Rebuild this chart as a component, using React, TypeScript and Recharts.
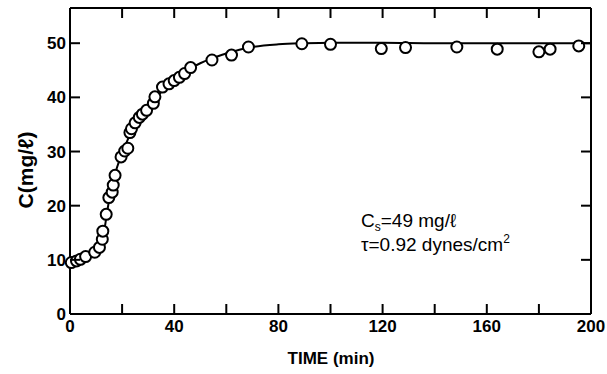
import React from 'react';
import { ComposedChart, Line, Scatter, XAxis, YAxis, Customized } from 'recharts';

// Measured concentration vs. time
const timeMin = [0.5, 2.5, 4, 6, 9.5, 11.3, 12.4, 12.6, 13.9, 14.9, 16.2, 16.6, 17.3, 19.6, 21, 22.2, 23, 23.6, 25, 26.6, 27.8, 29.4, 32, 32.6, 35.5, 38, 40, 42, 44, 46.3, 54.5, 62, 68.5, 89, 100, 119.5, 128.8, 148.5, 164, 180, 184.3, 195.3];
const concMg = [9.5, 9.8, 10.1, 10.6, 11.4, 12.3, 13.8, 15.3, 18.4, 21.5, 22.5, 23.8, 25.6, 29, 30.1, 30.6, 33.5, 34.2, 35.3, 36.3, 36.9, 37.6, 38.9, 40.1, 41.9, 42.5, 43.1, 43.7, 44.4, 45.5, 46.9, 47.8, 49.3, 49.9, 49.8, 49, 49.2, 49.3, 48.9, 48.4, 48.9, 49.5];

// Model curve
const fitTime = [0, 4, 8, 10, 12, 13, 14, 15, 16, 17, 18, 20, 22, 24, 26, 28, 30, 33, 36, 40, 45, 50, 55, 60, 65, 70, 80, 90, 100, 120, 140, 160, 180, 200];
const fitConc = [9.3, 9.9, 10.8, 11.6, 13.2, 15, 18, 21, 23.3, 25.2, 27, 29.6, 32, 34.2, 35.9, 37.2, 38.3, 39.9, 41.5, 43.2, 45, 46.3, 47.3, 48.1, 48.8, 49.3, 49.8, 50, 50.1, 50.1, 50, 50, 50, 50];

const xTicks = [0, 20, 40, 60, 80, 100, 120, 140, 160, 180, 200];
const xLabelTicks = [0, 40, 80, 120, 160, 200];
const yTicks = [0, 10, 20, 30, 40, 50];

const points = timeMin.map((t, i) => ({ t, c: concMg[i] }));
const fit = fitTime.map((t, i) => ({ t, c: fitConc[i] }));

const FONT = '"Liberation Sans", Arial, Helvetica, sans-serif';
const TICK_LEN = 10;

const BottomTick = (props: any) => {
  const { x, y, payload } = props;
  const show = xLabelTicks.includes(payload.value);
  return (
    <g>
      <line x1={x} y1={y} x2={x} y2={y - TICK_LEN} stroke="#000" strokeWidth={2} />
      {show && (
        <text x={x} y={y + 18} textAnchor="middle" fontFamily={FONT} fontWeight="bold" fontSize={17} fill="#000">
          {payload.value}
        </text>
      )}
    </g>
  );
};

const TopTick = (props: any) => {
  const { x, y } = props;
  return <line x1={x} y1={y} x2={x} y2={y + TICK_LEN} stroke="#000" strokeWidth={2} />;
};

const LeftTick = (props: any) => {
  const { x, y, payload } = props;
  return (
    <g>
      <line x1={x} y1={y} x2={x + TICK_LEN} y2={y} stroke="#000" strokeWidth={2} />
      <text x={x - 4} y={y + 6} textAnchor="end" fontFamily={FONT} fontWeight="bold" fontSize={17} fill="#000">
        {payload.value}
      </text>
    </g>
  );
};

const RightTick = (props: any) => {
  const { x, y } = props;
  return <line x1={x} y1={y} x2={x - TICK_LEN} y2={y} stroke="#000" strokeWidth={2} />;
};

const OpenCircle = (props: any) => (
  <circle cx={props.cx} cy={props.cy} r={5.5} fill="#fff" stroke="#000" strokeWidth={2} />
);

const Titles = () => (
  <g fontFamily={FONT} fill="#000">
    <text x={331} y={364} textAnchor="middle" fontWeight="bold" fontSize={17}>TIME (min)</text>
    <text x={33} y={170} textAnchor="middle" fontWeight="bold" fontSize={21} transform="rotate(-90 33 170)">C(mg/ℓ)</text>
    <text x={361} y={227} fontSize={19}>
      C<tspan dy={4} fontSize={12}>s</tspan><tspan dy={-4}>=49 mg/ℓ</tspan>
    </text>
    <text x={361} y={251} fontSize={19}>
      τ=0.92 dynes/cm<tspan dy={-8} fontSize={12}>2</tspan>
    </text>
  </g>
);

export default function App() {
  return (
    <div style={{ position: 'absolute', left: 0, top: 0, background: '#fff' }}>
      <ComposedChart width={607} height={374} margin={{ top: 7, right: 15, bottom: 0, left: 0 }}>
        <XAxis
          xAxisId="b"
          dataKey="t"
          type="number"
          domain={[0, 200]}
          ticks={xTicks}
          height={60}
          tickSize={0}
          tickMargin={0}
          tickLine={false}
          axisLine={{ stroke: '#000', strokeWidth: 2 }}
          tick={<BottomTick />}
          interval={0}
        />
        <XAxis
          xAxisId="top"
          dataKey="t"
          orientation="top"
          type="number"
          domain={[0, 200]}
          allowDataOverflow
          ticks={xTicks.slice(1, -1)}
          height={1}
          tickSize={0}
          tickMargin={0}
          tickLine={false}
          axisLine={{ stroke: '#000', strokeWidth: 2 }}
          tick={<TopTick />}
          interval={0}
        />
        <YAxis
          yAxisId="l"
          dataKey="c"
          type="number"
          domain={[0, 56.5]}
          ticks={yTicks}
          width={70}
          tickSize={0}
          tickMargin={0}
          tickLine={false}
          axisLine={{ stroke: '#000', strokeWidth: 2 }}
          tick={<LeftTick />}
          interval={0}
        />
        <YAxis
          yAxisId="r"
          dataKey="c"
          orientation="right"
          type="number"
          domain={[0, 56.5]}
          allowDataOverflow
          ticks={yTicks.slice(1)}
          width={1}
          tickSize={0}
          tickMargin={0}
          tickLine={false}
          axisLine={{ stroke: '#000', strokeWidth: 2 }}
          tick={<RightTick />}
          interval={0}
        />
        <Line
          xAxisId="b"
          yAxisId="l"
          data={fit}
          dataKey="c"
          type="monotone"
          stroke="#000"
          strokeWidth={2}
          dot={false}
          activeDot={false}
          isAnimationActive={false}
        />
        {/* invisible copy bound to the frame axes so they render */}
        <Line
          xAxisId="top"
          yAxisId="r"
          data={fit}
          dataKey="c"
          stroke="none"
          dot={false}
          activeDot={false}
          legendType="none"
          isAnimationActive={false}
        />
        <Scatter
          xAxisId="b"
          yAxisId="l"
          data={points}
          dataKey="c"
          shape={<OpenCircle />}
          isAnimationActive={false}
        />
        <Customized component={<Titles />} />
      </ComposedChart>
    </div>
  );
}
